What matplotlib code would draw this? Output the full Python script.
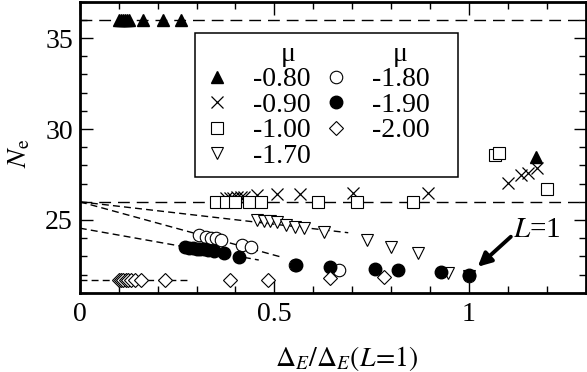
import matplotlib
matplotlib.use("Agg")
import matplotlib.pyplot as plt
from matplotlib.ticker import MultipleLocator

plt.rcParams["font.family"] = ["Liberation Serif", "DejaVu Serif"]
plt.rcParams["mathtext.fontset"] = "stix"
plt.rcParams["font.size"] = 20

# N_e against the normalised gap, one series per chemical potential mu
mu_labels = ["-0.80", "-0.90", "-1.00", "-1.70", "-1.80", "-1.90", "-2.00"]

x_080 = [0.100, 0.105, 0.110, 0.115, 0.120, 0.127, 0.162, 0.213, 0.260, 1.172]
y_080 = [36.0, 36.0, 36.0, 36.0, 36.0, 36.0, 36.0, 36.0, 36.0, 28.48]

x_090 = [0.375, 0.385, 0.395, 0.405, 0.415, 0.423, 0.455, 0.507, 0.567, 0.703, 0.895,
         1.100, 1.134, 1.151, 1.176]
y_090 = [26.20, 26.20, 26.22, 26.25, 26.25, 26.28, 26.37, 26.43, 26.43, 26.47, 26.47,
         27.05, 27.47, 27.60, 27.84]

x_100 = [0.350, 0.375, 0.400, 0.435, 0.465, 0.612, 0.712, 0.857, 1.066, 1.078, 1.202]
y_100 = [26.0, 26.0, 26.0, 26.0, 26.0, 26.0, 26.0, 26.0, 28.57, 28.66, 26.69]

x_170 = [0.456, 0.473, 0.490, 0.507, 0.529, 0.554, 0.575, 0.627, 0.737, 0.801, 0.870,
         0.946, 1.000]
y_170 = [25.00, 24.97, 24.93, 24.90, 24.72, 24.63, 24.54, 24.36, 23.90, 23.53, 23.17,
         22.10, 21.90]

x_180 = [0.307, 0.324, 0.337, 0.350, 0.362, 0.418, 0.439, 0.554, 0.665, 1.000]
y_180 = [24.17, 24.08, 24.03, 23.99, 23.90, 23.62, 23.53, 22.52, 22.25, 21.90]

x_190 = [0.270, 0.280, 0.290, 0.300, 0.310, 0.320, 0.330, 0.345, 0.370, 0.410, 0.556,
         0.644, 0.760, 0.817, 0.928, 1.000]
y_190 = [23.50, 23.48, 23.46, 23.43, 23.40, 23.38, 23.34, 23.30, 23.17, 22.98, 22.55,
         22.40, 22.29, 22.25, 22.16, 21.95]

x_200 = [0.100, 0.106, 0.112, 0.118, 0.124, 0.132, 0.142, 0.156, 0.220, 0.387, 0.485,
         0.644, 0.783]
y_200 = [21.72, 21.72, 21.72, 21.72, 21.72, 21.72, 21.72, 21.72, 21.72, 21.72, 21.72,
         21.79, 21.88]

# reference levels (long dashes) and linear extrapolations to zero gap (short dashes)
levels = [36.0, 26.0]
fit_x0 = [0.0, 0.0, 0.0, 0.0]
fit_y0 = [26.0, 26.0, 24.55, 21.72]
fit_x1 = [0.69, 0.52, 0.46, 0.28]
fit_y1 = [24.30, 22.95, 22.80, 21.72]

fig = plt.figure(figsize=(5.87, 3.72), dpi=100)
ax = fig.add_axes([0.136, 0.213, 0.8615, 0.7825])

for lev in levels:
    ax.plot([0, 1.3], [lev, lev], color="k", lw=1.0, dashes=(8.5, 5), zorder=1)
for a, b, c, d in zip(fit_x0, fit_y0, fit_x1, fit_y1):
    ax.plot([a, c], [b, d], color="k", lw=1.0, dashes=(5, 3), zorder=1)

h080, = ax.plot(x_080, y_080, ls="none", marker="^", ms=8.5, mfc="k", mec="k")
h090, = ax.plot(x_090, y_090, ls="none", marker="x", ms=8, mec="k", mew=0.9)
h100, = ax.plot(x_100, y_100, ls="none", marker="s", ms=8, mfc="w", mec="k", mew=0.8)
h170, = ax.plot(x_170, y_170, ls="none", marker="v", ms=9, mfc="w", mec="k", mew=0.8)
h180, = ax.plot(x_180, y_180, ls="none", marker="o", ms=9, mfc="w", mec="k", mew=0.8)
h190, = ax.plot(x_190, y_190, ls="none", marker="o", ms=9, mfc="k", mec="k")
h200, = ax.plot(x_200, y_200, ls="none", marker="D", ms=7, mfc="w", mec="k", mew=0.8)

ax.annotate("", xy=(1.023, 22.43), xytext=(1.108, 24.08),
            arrowprops=dict(arrowstyle="-|>", lw=2.8, color="k",
                            mutation_scale=20, shrinkA=0, shrinkB=0))
ax.text(1.113, 24.45, "$L$=1", ha="left", va="center", fontsize=21)

ax.set_xlim(0, 1.3)
ax.set_ylim(21, 37)
ax.xaxis.set_major_locator(MultipleLocator(0.5))
ax.xaxis.set_minor_locator(MultipleLocator(0.1))
ax.yaxis.set_major_locator(MultipleLocator(5))
ax.yaxis.set_minor_locator(MultipleLocator(1))
ax.set_xticks([0, 0.5, 1])
ax.set_xticklabels(["0", "0.5", "1"])
ax.tick_params(which="both", direction="in", top=True, right=True, width=1.0)
ax.tick_params(which="major", length=9)
ax.tick_params(which="minor", length=5)
ax.tick_params(axis="x", pad=7)
ax.tick_params(axis="y", pad=5)
for s in ax.spines.values():
    s.set_linewidth(2.0)

ax.set_xlabel(r"$\Delta_E/\Delta_E(L\!=\!1)$", fontsize=20)
ax.set_ylabel(r"$N_{\rm e}$", fontsize=20)
ax.xaxis.set_label_coords(0.527, -0.175)
ax.yaxis.set_label_coords(-0.094, 0.48)

blank, = ax.plot([], [], ls="none")
handles = [blank, h080, h090, h100, h170, blank, h180, h190, h200, blank]
labels = ["    μ", mu_labels[0], mu_labels[1], mu_labels[2], mu_labels[3],
          "   μ      ", mu_labels[4], mu_labels[5], mu_labels[6], ""]
leg = ax.legend(handles, labels, ncol=2, loc="upper left",
                bbox_to_anchor=(0.227, 0.892), borderaxespad=0, fontsize=20,
                frameon=True, fancybox=False, edgecolor="k", framealpha=1,
                handlelength=1.0, handletextpad=0.8, columnspacing=0.4,
                labelspacing=0.0, borderpad=0.3)
leg.get_frame().set_linewidth(1.1)

fig.savefig("out.png", dpi=100)
